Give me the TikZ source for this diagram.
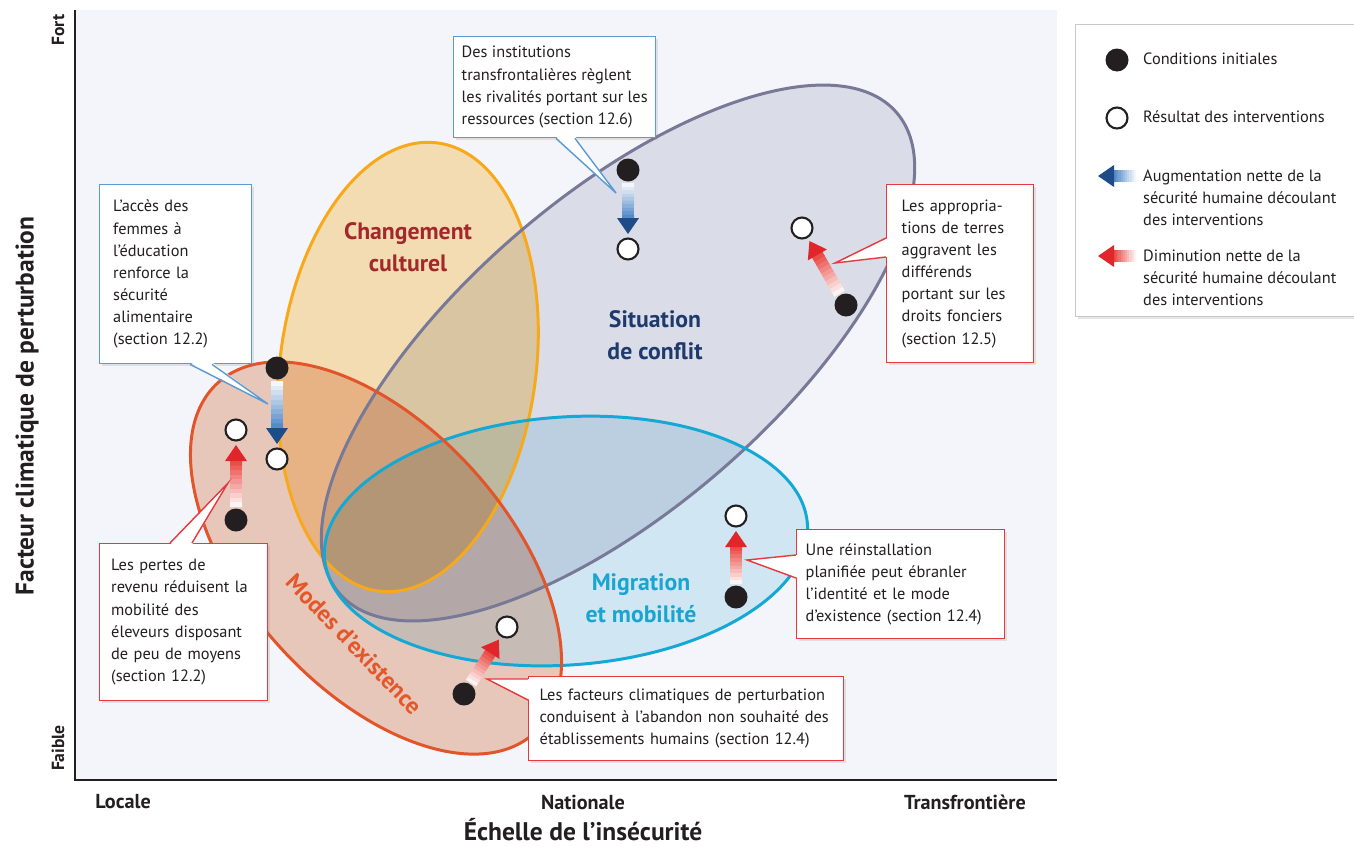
\documentclass[tikz,border=0pt]{standalone}
\usepackage{fontspec}
\setmainfont{PT Sans}
\usetikzlibrary{calc,shadows}
\definecolor{plotbg}{HTML}{F3F5FA}
\definecolor{cultfill}{HTML}{FFE5B5}
\definecolor{cultline}{HTML}{F7A81B}
\definecolor{cultlbl}{HTML}{A3282B}
\definecolor{confill}{HTML}{E5E5EC}
\definecolor{conline}{HTML}{787897}
\definecolor{conlbl}{HTML}{1E3A6C}
\definecolor{migfill}{HTML}{DCF0F8}
\definecolor{migline}{HTML}{14A8D4}
\definecolor{miglbl}{HTML}{1AA5D0}
\definecolor{modfill}{HTML}{F4D0BF}
\definecolor{modline}{HTML}{E2542A}
\definecolor{modlbl}{HTML}{E3582B}
\definecolor{dotblack}{HTML}{231F20}
\definecolor{bluebord}{HTML}{5B9BD5}
\definecolor{redbord}{HTML}{E8383D}
\definecolor{arrblue}{HTML}{3A7BC0}
\definecolor{headblue}{HTML}{1D4C88}
\definecolor{arrred}{HTML}{E6332C}
\definecolor{headred}{HTML}{E1262B}
\definecolor{legbord}{HTML}{C9C9C9}

\begin{document}
\begin{tikzpicture}[
  x=0.02cm, y=-0.02cm,
  font=\fontsize{9.3}{12.6}\selectfont,
  every node/.append style={text=dotblack},
  initdot/.style={circle, fill=dotblack, minimum size=0.46cm, inner sep=0pt},
  resdot/.style={circle, draw=dotblack, line width=1.2pt, fill=white, minimum size=0.42cm, inner sep=0pt},
  callout/.style={fill=white, line width=0.8pt, align=left, anchor=north west,
    inner xsep=0.2cm, inner ysep=0.16cm,
    drop shadow={shadow xshift=1.5pt, shadow yshift=-1.5pt, opacity=0.18}},
  callblue/.style={callout, draw=bluebord},
  callred/.style={callout, draw=redbord},
  zonelbl/.style={font=\bfseries\fontsize{13.5}{18}\selectfont, align=center},
  zoneline/.style={line width=1.7pt},
  axisttl/.style={font=\bfseries\fontsize{14.5}{17}\selectfont},
  ticklbl/.style={font=\bfseries\fontsize{11.5}{13}\selectfont},
  legtxt/.style={anchor=west, align=left},
]
\useasboundingbox (0,0) rectangle (1354,846);
% plot area
\fill[plotbg] (75,10) rectangle (1057,780);

% zones
\begin{scope}[blend mode=multiply]
  \fill[cultfill, rotate around={-7.5:(408,367)}] (408,367) ellipse [x radius=128, y radius=226];
  \fill[confill, rotate around={40.8:(618,353)}] (618,353) ellipse [x radius=368, y radius=156];
  \fill[migfill, rotate around={4:(566,541)}] (566,541) ellipse [x radius=242, y radius=124];
  \fill[modfill, rotate around={-48:(376,558)}] (376,558) ellipse [x radius=236, y radius=131];
\end{scope}
\draw[zoneline, cultline, rotate around={-7.5:(408,367)}] (408,367) ellipse [x radius=128, y radius=226];
\draw[zoneline, conline, rotate around={40.8:(618,353)}] (618,353) ellipse [x radius=368, y radius=156];
\draw[zoneline, migline, rotate around={4:(566,541)}] (566,541) ellipse [x radius=242, y radius=124];
\draw[zoneline, modline, rotate around={-48:(376,558)}] (376,558) ellipse [x radius=236, y radius=131];

\node[zonelbl, text=cultlbl] (cult) at (408,247) {Changement\\culturel};
\node[zonelbl, text=conlbl] (conf) at (655,335) {Situation\\de conflit};
\node[zonelbl, text=miglbl] (migr) at (641,598) {Migration\\et mobilité};
\node[zonelbl, text=modlbl, rotate=-46] (mode) at (354,644) {Modes d’existence};

% initial conditions and outcomes
\node[initdot] (educI) at (277,368) {};
\node[resdot] (educR) at (277,459) {};
\node[initdot] (revI) at (236,520) {};
\node[resdot] (revR) at (236,430) {};
\node[initdot] (instI) at (628,170) {};
\node[resdot] (instR) at (628,249) {};
\node[initdot] (terreI) at (846,305) {};
\node[resdot] (terreR) at (802,228) {};
\node[initdot] (reinstI) at (736,597) {};
\node[resdot] (reinstR) at (736,516) {};
\node[initdot] (abandI) at (464,694) {};
\node[resdot] (abandR) at (507,627) {};

% legend
\node[draw=legbord, fill=white, line width=0.6pt, anchor=north west, minimum width=5.8cm, minimum height=5.84cm,
  drop shadow={shadow xshift=1.5pt, shadow yshift=-1.5pt, opacity=0.2}] (legend) at (1075,24) {};
\node[initdot] (legI) at (1117,60) {};
\node[resdot] (legR) at (1117,118) {};
\coordinate (legBs) at (1149,176);
\coordinate (legBe) at (1083,176);
\coordinate (legRs) at (1149,256);
\coordinate (legRe) at (1083,256);
\node[legtxt] (legIt) at (1137,59) {Conditions initiales};
\node[legtxt] (legRt) at (1137,117) {Résultat des interventions};
\node[legtxt] (legBt) at (1137,198) {Augmentation nette de la\\sécurité humaine découlant\\des interventions};
\node[legtxt] (legDt) at (1137,278) {Diminution nette de la\\sécurité humaine découlant\\des interventions};

% shaded arrows, black dot -> white dot
\foreach \s/\e/\c/\h in {educI/educR/arrblue/headblue, instI/instR/arrblue/headblue,
    revI/revR/arrred/headred, terreI/terreR/arrred/headred, reinstI/reinstR/arrred/headred,
    abandI/abandR/arrred/headred, legBs/legBe/arrblue/headblue, legRs/legRe/arrred/headred}{
  \coordinate (t) at ($(\s)!0.26cm!(\e)$);
  \coordinate (p) at ($(\e)!0.3cm!(\s)$);
  \coordinate (b) at ($(p)!0.32cm!(t)$);
  \foreach \i in {0,...,9}{
    \pgfmathtruncatemacro\pc{6+9*\i}
    \draw[line width=0.24cm, \c!\pc!white] ($(t)!\i/10!(b)$) -- ($(t)!\i/10+0.11!(b)$);
  }
  \fill[\h] (p) -- ($(b)!0.22cm!90:(p)$) -- ($(b)!0.22cm!-90:(p)$) -- cycle;
}

% callouts
\node[callblue, inner xsep=0.1cm, minimum width=4.04cm, minimum height=2.02cm] (noteinst) at (453,36)
  {Des institutions\\transfrontalières règlent\\les rivalités portant sur les\\ressources (section 12.6)};
\coordinate (insttip) at (616,193);
\fill[white] ($(noteinst.south west)+(103,-2)$) -- (insttip) -- ($(noteinst.south west)+(122,-2)$) -- cycle;
\draw[bluebord, line width=0.8pt] ($(noteinst.south west)+(103,0)$) -- (insttip) -- ($(noteinst.south west)+(122,0)$);

\node[callblue, text width=2.5cm, inner xsep=0.27cm, minimum height=3.58cm] (noteeduc) at (99,184)
  {L’accès des\\femmes à\\l’éducation\\renforce la\\sécurité\\alimentaire\\(section 12.2)};
\coordinate (eductip) at (268,404);
\fill[white] ($(noteeduc.south west)+(91,-2)$) -- (eductip) -- ($(noteeduc.south west)+(113,-2)$) -- cycle;
\draw[bluebord, line width=0.8pt] ($(noteeduc.south west)+(91,0)$) -- (eductip) -- ($(noteeduc.south west)+(113,0)$);

\node[callred, text width=2.9cm, inner xsep=0.23cm, minimum height=3.14cm] (noterev) at (99,543)
  {Les pertes de\\revenu réduisent la\\mobilité des\\éleveurs disposant\\de peu de moyens\\(section 12.2)};
\coordinate (revtip) at (228,483);
\fill[white] ($(noterev.north west)+(71,2)$) -- (revtip) -- ($(noterev.north west)+(93,2)$) -- cycle;
\draw[redbord, line width=0.8pt] ($(noterev.north west)+(71,0)$) -- (revtip) -- ($(noterev.north west)+(93,0)$);

\node[callred, text width=2.34cm, inner xsep=0.3cm, minimum height=3.56cm] (noteterre) at (886,184)
  {Les appropria-\\tions de terres\\aggravent les\\différends\\portant sur les\\droits fonciers\\(section 12.5)};
\coordinate (terretip) at (835,263);
\fill[white] ($(noteterre.north west)+(2,54)$) -- (terretip) -- ($(noteterre.north west)+(2,73)$) -- cycle;
\draw[redbord, line width=0.8pt] ($(noteterre.north west)+(0,54)$) -- (terretip) -- ($(noteterre.north west)+(0,73)$);

\node[callred, text width=3.8cm, inner xsep=0.18cm, minimum height=2.18cm] (notereinst) at (796,529)
  {Une réinstallation\\planifiée peut ébranler\\l’identité et le mode\\d’existence (section 12.4)};
\coordinate (reinsttip) at (747,560);
\fill[white] ($(notereinst.north west)+(2,26)$) -- (reinsttip) -- ($(notereinst.north west)+(2,49)$) -- cycle;
\draw[redbord, line width=0.8pt] ($(notereinst.north west)+(0,26)$) -- (reinsttip) -- ($(notereinst.north west)+(0,49)$);

\node[callred, text width=5.86cm, inner xsep=0.22cm, minimum height=1.68cm] (noteaband) at (528,676)
  {Les facteurs climatiques de perturbation\\conduisent à l’abandon non souhaité des\\établissements humains (section 12.4)};
\coordinate (abandtip) at (487,679);
\fill[white] ($(noteaband.north west)+(2,3)$) -- (abandtip) -- ($(noteaband.north west)+(2,24)$) -- cycle;
\draw[redbord, line width=0.8pt] ($(noteaband.north west)+(0,3)$) -- (abandtip) -- ($(noteaband.north west)+(0,24)$);

% axes
\draw[dotblack, line width=1.4pt] (75,10) -- (75,780) -- (1057,780);
\node[axisttl, rotate=90] (ylab) at (27,406) {Facteur climatique de perturbation};
\node[ticklbl, font=\bfseries\fontsize{10}{12}\selectfont, rotate=90] (yhi) at (58,30) {Fort};
\node[ticklbl, font=\bfseries\fontsize{10}{12}\selectfont, rotate=90] (ylo) at (58,748) {Faible};
\node[ticklbl] (xlo) at (123,802) {Locale};
\node[ticklbl] (xmid) at (583,802) {Nationale};
\node[ticklbl] (xhi) at (965,802) {Transfrontière};
\node[axisttl] (xlab) at (583,830) {Échelle de l’insécurité};
\end{tikzpicture}
\end{document}
